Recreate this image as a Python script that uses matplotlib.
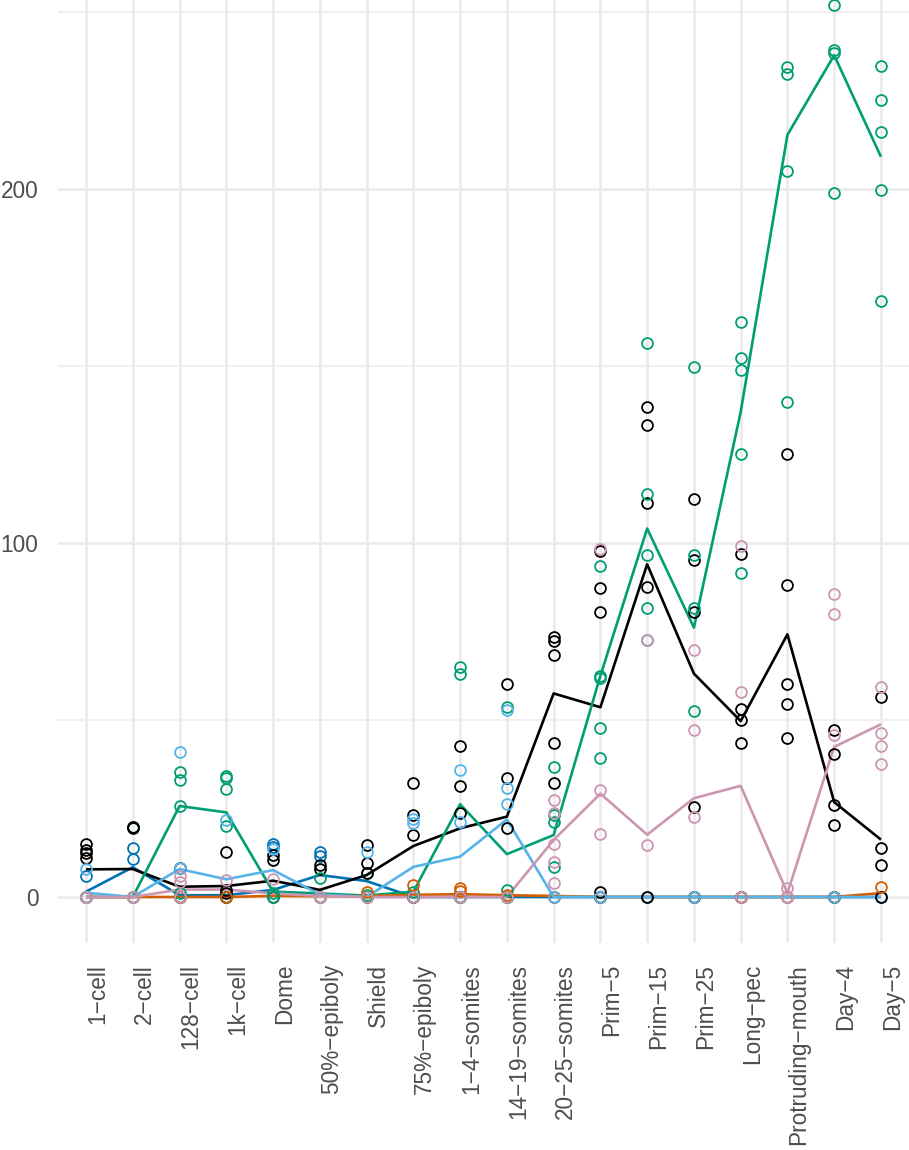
import matplotlib
matplotlib.use("Agg")
import matplotlib.pyplot as plt

plt.rcParams['font.family'] = ['Liberation Sans', 'DejaVu Sans']

stages = ["1−cell", "2−cell", "128−cell", "1k−cell", "Dome", "50%−epiboly",
          "Shield", "75%−epiboly", "1−4−somites", "14−19−somites",
          "20−25−somites", "Prim−5", "Prim−15", "Prim−25", "Long−pec",
          "Protruding−mouth", "Day−4", "Day−5"]

y_ticks = [0, 100, 200]
y_minor = [50, 150, 250]

# ---- mean lines (per stage) ----
line_darkblue = [1.5, 8.4, 0.5, 0.5, 2.0, 6.2, 4.5, 0, 0, 0, 0, 0, 0, 0, 0, 0, 0, 0]
line_black = [7.8, 7.9, 2.9, 3.1, 4.6, 2.0, 6.2, 14.4, 19.4, 22.7, 57.5, 53.6,
              94.0, 63.1, 49.7, 74.2, 26.8, 16.2]
line_green = [0, 0, 25.7, 23.9, 1.5, 1.0, 0.4, 1.5, 26.2, 12.1, 17.5, 62.5,
              104.1, 76.1, 137.0, 215.3, 237.8, 209.1]
line_orange = [0, 0, 0, 0, 0.3, 0.2, 0.3, 0.6, 0.8, 0.5, 0.3, 0, 0, 0, 0, 0, 0, 1.1]
line_lightblue = [1.2, 0, 7.9, 5.0, 7.6, 0.7, 0, 8.5, 11.4, 21.9, 0, 0, 0, 0, 0, 0, 0, 0]
line_pink = [0, 0, 2.1, 2.1, 1.0, 0.3, 0, 0, 0, 0, 16.1, 29.2, 17.6, 27.9, 31.4,
             1.1, 42.4, 48.8]

# ---- replicate points (per stage) ----
pts_darkblue = [[5.9, 0], [19.9, 13.7, 10.6], [0], [0], [15.1, 14.2], [12.8, 11.6],
                [6.7], [0], [0], [0], [0], [0], [0], [0], [0], [0], [0], [0]]
pts_black = [[15.1, 13.4, 12.3, 10.9, 0], [19.9, 19.4, 0], [8.3, 0],
             [12.8, 2.0, 1.0, 0], [11.9, 10.5, 0], [9.0, 7.8, 0],
             [14.7, 9.7, 6.7, 0], [32.1, 23.3, 17.5, 0], [42.7, 31.4, 23.6, 0],
             [60.2, 33.5, 19.4, 0], [73.5, 72.4, 68.5, 43.4, 32.1],
             [97.7, 87.3, 80.4, 1.4, 0], [138.3, 133.3, 111.2, 87.6, 0],
             [112.4, 95.3, 80.4, 25.3, 0], [96.8, 53.2, 50.0, 43.5, 0],
             [125.1, 88.2, 60.3, 54.4, 44.9], [47.2, 40.5, 25.9, 20.4, 0],
             [56.6, 13.7, 9.1, 0]]
pts_green = [[0], [0], [35.4, 33.0, 25.7, 1.0], [34.2, 33.5, 30.4, 20.1, 0],
             [1.0, 0], [5.5, 0], [0.5], [1.5], [65.0, 63.0, 0], [53.7, 2.1, 0],
             [36.8, 23.2, 21.2, 8.5], [93.6, 62.5, 62.0, 47.7, 39.3],
             [156.4, 113.8, 96.6, 81.5, 72.6], [149.8, 96.6, 81.5, 52.5, 0],
             [162.5, 152.3, 149.0, 125.1, 91.6], [234.4, 232.6, 205.2, 139.8],
             [252.1, 239.4, 238.5, 199.0], [234.7, 225.1, 216.0, 199.7, 168.4]]
pts_orange = [[0], [0], [0], [0], [], [0], [1.5], [3.4], [2.4, 1.8], [0.5], [0],
              [0], [], [0], [0], [0], [0], [2.7]]
pts_lightblue = [[7.8, 0], [0], [41.0, 8.3], [21.8], [13.5], [0], [12.8],
                 [21.9, 21.0], [36.0, 21.2], [52.8, 30.7, 26.4], [0], [0], [],
                 [0], [], [], [0], []]
pts_pink = [[0], [0], [5.9, 4.3, 0], [4.8], [5.2], [0], [0], [0], [0], [0],
            [27.4, 23.6, 15.1, 9.9, 4.0], [98.3, 30.1, 17.8], [72.6, 14.7],
            [69.8, 47.1, 22.5], [99.1, 58.0, 0], [2.4, 0], [85.6, 80.0, 45.7],
            [59.4, 46.3, 42.6, 37.7]]

series = [
    ("#0072B2", line_darkblue, pts_darkblue),
    ("#000000", line_black, pts_black),
    ("#009E73", line_green, pts_green),
    ("#D55E00", line_orange, pts_orange),
    ("#56B4E9", line_lightblue, pts_lightblue),
    ("#CC96B3", line_pink, pts_pink),
]

fig = plt.figure(figsize=(9.09, 11.5), dpi=100)
ax = fig.add_axes([58 / 909, 1 - 943 / 1150, 1 - 58 / 909, 943 / 1150])

xs = list(range(len(stages)))
for k, (col, line, pts) in enumerate(series):
    ax.plot(xs, line, color=col, lw=1.9, zorder=3 + k * 0.01, solid_capstyle='butt')
for k, (col, line, pts) in enumerate(series):
    px, py = [], []
    for i, vals in enumerate(pts):
        for v in vals:
            px.append(i)
            py.append(v)
    ax.plot(px, py, linestyle='none', marker='o', markersize=7.8,
            markerfacecolor='none', markeredgecolor=col, markeredgewidth=1.3,
            zorder=4 + k * 0.01)

ax.set_xlim(-0.6, len(stages) - 1 + 0.6)
ax.set_ylim(-13.0, 253.4)
ax.set_xticks(xs)
ax.set_xticklabels(stages, rotation=90, ha='left', va='top',
                   rotation_mode='default', color='#4D4D4D', fontsize=16.3)
ax.set_yticks(y_ticks)
ax.set_yticklabels([str(v) for v in y_ticks], color='#4D4D4D', fontsize=16.3)
ax.set_yticks(y_minor, minor=True)
ax.tick_params(axis='both', which='both', length=0)
ax.tick_params(axis='x', pad=15)
ax.tick_params(axis='y', pad=14)
for lab in ax.get_xticklabels():
    lab.set_horizontalalignment('left')

ax.grid(True, which='major', color='#EBEBEB', lw=1.95, zorder=0)
ax.grid(True, which='minor', axis='y', color='#EBEBEB', lw=1.1, zorder=0)
ax.set_axisbelow(True)
for s in ax.spines.values():
    s.set_visible(False)
ax.set_facecolor('white')

fig.savefig("out.png", dpi=100, facecolor='white')
